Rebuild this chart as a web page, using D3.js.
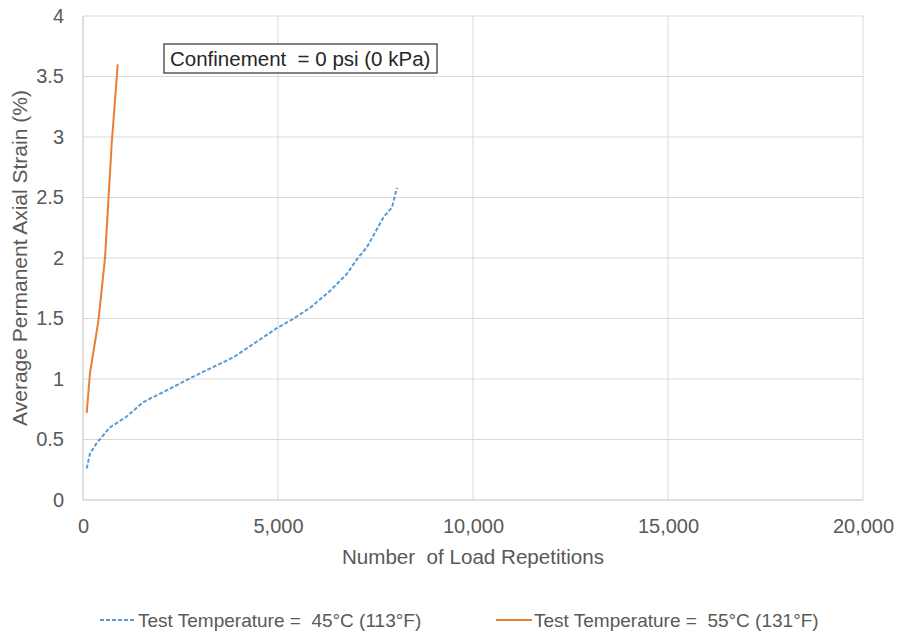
<!DOCTYPE html>
<html>
<head>
<meta charset="utf-8">
<script src="https://cdn.jsdelivr.net/npm/d3@7"></script>
<style>
  body { margin: 0; background: #fff; }
  text { font-family: "Liberation Sans", Arial, sans-serif; white-space: pre; }
</style>
</head>
<body>
<div id="chart"></div>
<script>
// 45 C series (dashed blue)
let reps45 = [95, 180, 350, 690, 1120, 1550, 2230, 2830, 3345, 3860, 4370, 4970, 5400, 5830, 6340, 6770, 7025, 7280, 7710, 7925, 8050];
let strain45 = [0.26, 0.385, 0.47, 0.60, 0.69, 0.81, 0.92, 1.02, 1.10, 1.18, 1.29, 1.42, 1.50, 1.59, 1.73, 1.87, 1.99, 2.09, 2.34, 2.42, 2.58];
// 55 C series (solid orange)
let reps55 = [95, 180, 395, 565, 650, 735, 890];
let strain55 = [0.72, 1.05, 1.48, 2.0, 2.47, 2.94, 3.60];

let xTicks = [0, 5000, 10000, 15000, 20000];
let yTicks = [0, 0.5, 1, 1.5, 2, 2.5, 3, 3.5, 4];
let seriesNames = ["Test Temperature =  45°C (113°F)", "Test Temperature =  55°C (131°F)"];
let colors = ["#5b9bd5", "#ed7d31"];

let W = 899, H = 633;
let margin = { TOP: 16, BOTTOM: 133, LEFT: 83, RIGHT: 36 };

let svg = d3.select("#chart").append("svg")
  .attr("width", W).attr("height", H);

let x = d3.scaleLinear().domain([0, 20000]).range([margin.LEFT, W - margin.RIGHT]);
let y = d3.scaleLinear().domain([0, 4]).range([H - margin.BOTTOM, margin.TOP]);

//grid
svg.append("g")
  .selectAll("line.h").data(yTicks).enter().append("line")
  .attr("x1", x(0)).attr("x2", x(20000))
  .attr("y1", d => y(d)).attr("y2", d => y(d))
  .attr("stroke", d => d === 0 ? "#bfbfbf" : "#d9d9d9").attr("stroke-width", 1);
svg.append("g")
  .selectAll("line.v").data(xTicks).enter().append("line")
  .attr("y1", y(0)).attr("y2", y(4))
  .attr("x1", d => x(d)).attr("x2", d => x(d))
  .attr("stroke", d => d === 0 ? "#bfbfbf" : "#d9d9d9").attr("stroke-width", 1);

//axes
let fmt = d3.format(",");
let xAxis = svg.append("g")
  .attr("transform", `translate(0, ${y(0)})`)
  .call(d3.axisBottom(x).tickValues(xTicks).tickFormat(fmt).tickSize(0).tickPadding(19));
let yAxis = svg.append("g")
  .attr("transform", `translate(${x(0)}, 0)`)
  .call(d3.axisLeft(y).tickValues(yTicks).tickFormat(d => d).tickSize(0).tickPadding(19));
[xAxis, yAxis].forEach(a => {
  a.select(".domain").remove();
  a.selectAll("text").attr("fill", "#595959").style("font-size", "20px")
    .style("font-family", "'Liberation Sans', Arial, sans-serif");
});

//axis titles
svg.append("text")
  .attr("x", (x(0) + x(20000)) / 2).attr("y", 564)
  .attr("text-anchor", "middle").attr("fill", "#595959").style("font-size", "20.6px")
  .text("Number  of Load Repetitions");
svg.append("text")
  .attr("transform", `translate(27, ${(y(0) + y(4)) / 2}) rotate(-90)`)
  .attr("text-anchor", "middle").attr("fill", "#595959").style("font-size", "21px")
  .text("Average Permanent Axial Strain (%)");

//lines
let line = d3.line().x(d => x(d[0])).y(d => y(d[1]));
svg.append("path")
  .datum(reps45.map((r, i) => [r, strain45[i]]))
  .attr("d", line).attr("fill", "none")
  .attr("stroke", colors[0]).attr("stroke-width", 2).attr("stroke-dasharray", "4,2");
svg.append("path")
  .datum(reps55.map((r, i) => [r, strain55[i]]))
  .attr("d", line).attr("fill", "none")
  .attr("stroke", colors[1]).attr("stroke-width", 2);

//annotation box
let note = svg.append("g").attr("transform", "translate(164, 44)");
note.append("rect").attr("width", 273).attr("height", 29)
  .attr("fill", "#fff").attr("stroke", "#404040").attr("stroke-width", 1.3);
note.append("text").attr("x", 6).attr("y", 22)
  .attr("fill", "#262626").style("font-size", "20.5px")
  .text("Confinement  = 0 psi (0 kPa)");

//legend
let legend = svg.append("g").attr("transform", "translate(0, 620)");
let legX = [100, 496];
seriesNames.forEach((name, i) => {
  let g = legend.append("g").attr("transform", `translate(${legX[i]}, 0)`);
  g.append("line").attr("x1", 0).attr("x2", 36).attr("y1", 0).attr("y2", 0)
    .attr("stroke", colors[i]).attr("stroke-width", 2)
    .attr("stroke-dasharray", i === 0 ? "4,2" : null);
  g.append("text").attr("x", 38).attr("y", 7)
    .attr("fill", "#595959").style("font-size", "19px")
    .text(name);
});
</script>
</body>
</html>
